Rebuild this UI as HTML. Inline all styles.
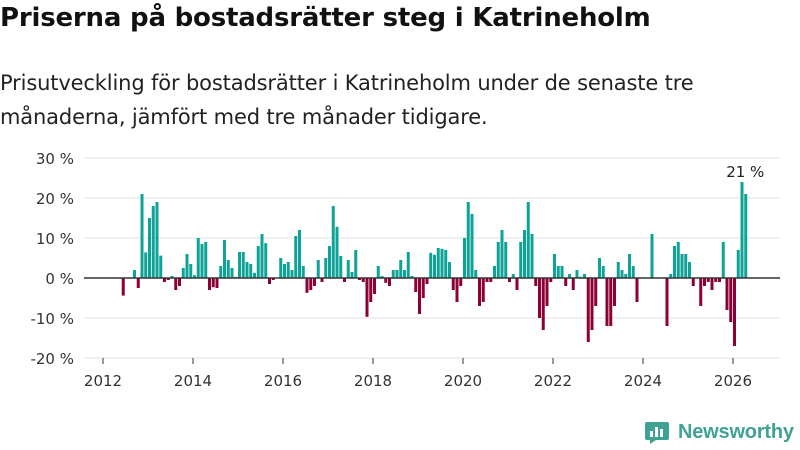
<!DOCTYPE html>
<html><head><meta charset="utf-8"><style>
body{margin:0;width:800px;height:450px;background:#fff;font-family:"Liberation Sans","DejaVu Sans",sans-serif;overflow:hidden;position:relative}
h1{position:absolute;left:0;top:3px;margin:0;font-size:26px;font-weight:bold;color:#111;font-family:"DejaVu Sans",sans-serif;letter-spacing:-0.2px}
.sub{position:absolute;left:0;top:66px;font-size:21px;line-height:34px;color:#222;font-family:"DejaVu Sans",sans-serif;letter-spacing:-0.15px}
</style></head><body>
<h1>Priserna på bostadsrätter steg i Katrineholm</h1>
<div class="sub">Prisutveckling för bostadsrätter i Katrineholm under de senaste tre<br>månaderna, jämfört med tre månader tidigare.</div>
<svg id="chart" width="800" height="450" style="position:absolute;left:0;top:0"></svg>
<script>
const startYear = 2012;
const values = [null,null,null,null,null,-4.4,null,null,2,-2.5,21,6.4,15,18,19,5.6,-1,-0.5,0.5,-3,-2,2.5,6,3.5,0.7,10,8.5,9,-3,-2.3,-2.5,3,9.5,4.5,2.5,0.3,6.5,6.5,4,3.5,1.3,8,11,8.7,-1.5,-0.5,null,5,3.5,4,2,10.5,12,3,-3.7,-3,-2,4.5,-1,5,8,18,12.8,5.5,-1,4.5,1.5,7,-0.5,-1,-9.7,-6,-4,3,0.5,-1.2,-2,2,2,4.5,2,6.5,0.5,-3.5,-9,-5,-1.5,6.3,5.8,7.5,7.3,7,4,-3,-6,-2,10,19,16,2,-7,-6,-1,-1,3,9,12,9,-1,1,-3,9,12,19,11,-2,-10,-13,-7,-1,6,3,3,-2,1,-3,2,0.3,1,-16,-13,-7,5,3,-12,-12,-7,4,2,1,6,3,-6,null,null,null,11,null,null,null,-12,1,8,9,6,6,4,-2,null,-7,-2,-1,-3,-1,-1,9,-8,-11,-17,7,24,21];
const yTicks = [30,20,10,0,-10,-20];
const yTickLabels = ["30 %","20 %","10 %","0 %","-10 %","-20 %"];
const xTicks = [2012,2014,2016,2018,2020,2022,2024,2026];
const lastLabel = "21 %";

const svg = document.getElementById('chart');
const NS = "http://www.w3.org/2000/svg";
const y = v => 278 - v * 4;
const xm = i => 103 + i * 3.75;
const xy = yr => 103 + (yr - startYear) * 12 * 3.75;
function mk(tag, attrs){const e=document.createElementNS(NS,tag);for(const k in attrs)e.setAttribute(k,attrs[k]);svg.appendChild(e);return e;}

yTicks.forEach((t,k)=>{
  if(t!==0){const g=mk('line',{x1:84,x2:780,y1:y(t),y2:y(t),stroke:'#e0e0e0','stroke-width':1});
  
  }
  const tx=mk('text',{x:74,y:y(t)+6,'text-anchor':'end','font-size':15,fill:'#333','font-family':'DejaVu Sans, sans-serif'});
  tx.textContent=yTickLabels[k];
  
  
});
values.forEach((v,i)=>{
  if(v===null)return;
  const r=mk('rect',{x:xm(i),width:3,y:v>=0?y(v):y(0),height:Math.abs(v)*4,fill:v>=0?'#0fa397':'#8c0036'});
  
  
});
const z=mk('line',{x1:84,x2:780,y1:y(0),y2:y(0),stroke:'#333','stroke-width':1.5});


xTicks.forEach(yr=>{
  const l=mk('line',{x1:xy(yr),x2:xy(yr),y1:358,y2:364,stroke:'#333','stroke-width':1});
  
  
  const t=mk('text',{x:xy(yr),y:386,'text-anchor':'middle','font-size':15,fill:'#333','font-family':'DejaVu Sans, sans-serif'});
  t.textContent=yr;
  
  
});
const li=values.length-1;
const lt=mk('text',{x:xm(li)+1,y:y(values[li]+3)-5,'text-anchor':'middle','font-size':15,fill:'#222','font-family':'DejaVu Sans, sans-serif'});
lt.textContent=lastLabel;


</script>
<div style="position:absolute;left:644px;top:420px;display:flex;align-items:center;gap:8px">
<svg width="26" height="24"><path d="M3 2h20a2 2 0 0 1 2 2v14a2 2 0 0 1-2 2H12l-6 4v-4H3a2 2 0 0 1-2-2V4a2 2 0 0 1 2-2z" fill="#3fa393"/><rect x="6" y="11" width="3" height="6" fill="#fff"/><rect x="11" y="7" width="3" height="10" fill="#fff"/><rect x="16" y="9" width="3" height="8" fill="#fff"/></svg>
<span style="font-size:20px;font-weight:bold;color:#3fa393;font-family:'Liberation Sans',sans-serif;letter-spacing:-0.2px">Newsworthy</span></div>
</body></html>
